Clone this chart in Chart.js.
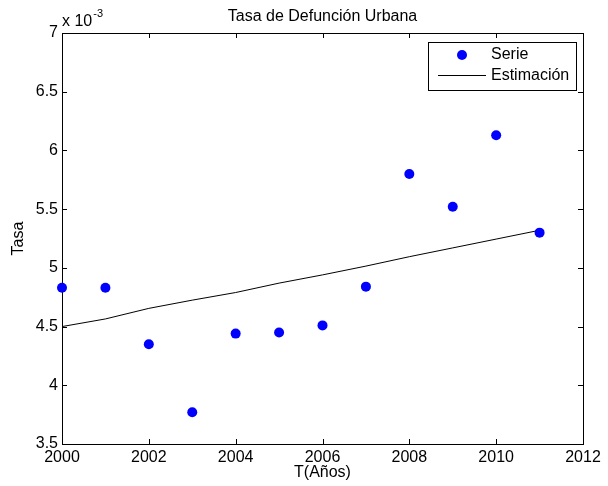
<!DOCTYPE html>
<html>
<head>
<meta charset="utf-8">
<script src="https://cdn.jsdelivr.net/npm/chart.js@4/dist/chart.umd.min.js"></script>
<style>
  html, body { margin: 0; padding: 0; background: #ffffff; }
  #wrap { width: 608px; height: 486px; }
</style>
</head>
<body>
<div id="wrap"><canvas id="c" width="608" height="486"></canvas></div>
<script>
// Urban death rate by year (values in units of 10^-3)
const years = [2000, 2001, 2002, 2003, 2004, 2005, 2006, 2007, 2008, 2009, 2010, 2011];
const serie = [4.83, 4.83, 4.35, 3.77, 4.44, 4.45, 4.51, 4.84, 5.80, 5.52, 6.13, 5.30];
const estimacion = [4.50, 4.565, 4.655, 4.725, 4.79, 4.87, 4.94, 5.015, 5.095, 5.17, 5.245, 5.32];
const xTicks = [2000, 2002, 2004, 2006, 2008, 2010, 2012];
const yTicks = [3.5, 4, 4.5, 5, 5.5, 6, 6.5, 7];
const yTickLabels = ['3.5', '4', '4.5', '5', '5.5', '6', '6.5', '7'];

const FONT = 'Liberation Sans, Arial, Helvetica, sans-serif';
const FS = 16;

// Axis box with inward tick marks on all four sides
const boxPlugin = {
  id: 'box',
  beforeDatasetsDraw(chart) {
    const { ctx, chartArea: a, scales: { x, y } } = chart;
    ctx.save();
    ctx.strokeStyle = '#000';
    ctx.lineWidth = 1;
    ctx.strokeRect(a.left + 0.5, a.top + 0.5, a.right - a.left, a.bottom - a.top);
    const tl = 5;
    ctx.beginPath();
    xTicks.forEach(v => {
      const px = Math.round(x.getPixelForValue(v)) + 0.5;
      ctx.moveTo(px, a.bottom); ctx.lineTo(px, a.bottom - tl);
      ctx.moveTo(px, a.top); ctx.lineTo(px, a.top + tl);
    });
    yTicks.forEach(v => {
      const py = Math.round(y.getPixelForValue(v)) + 0.5;
      ctx.moveTo(a.left, py); ctx.lineTo(a.left + tl, py);
      ctx.moveTo(a.right, py); ctx.lineTo(a.right - tl, py);
    });
    ctx.stroke();
    // exponent note above the y axis
    ctx.fillStyle = '#000';
    ctx.textBaseline = 'alphabetic';
    ctx.textAlign = 'left';
    ctx.font = FS + 'px ' + FONT;
    ctx.fillText('x 10', a.left, 26);
    const w = ctx.measureText('x 10').width;
    ctx.font = '11px ' + FONT;
    ctx.fillText('-3', a.left + w + 1, 17);
    ctx.restore();
  },
  afterDraw(chart) {
    // legend box in the upper right corner of the plot
    const { ctx } = chart;
    const L = 428, T = 42, R = 576, B = 90;
    ctx.save();
    ctx.fillStyle = '#fff';
    ctx.fillRect(L, T, R - L, B - T);
    ctx.strokeStyle = '#000';
    ctx.lineWidth = 1;
    ctx.strokeRect(L + 0.5, T + 0.5, R - L, B - T);
    const d0 = chart.data.datasets[0], d1 = chart.data.datasets[1];
    ctx.fillStyle = d0.pointBackgroundColor;
    ctx.beginPath();
    ctx.arc(462, 55, d0.pointRadius, 0, Math.PI * 2);
    ctx.fill();
    ctx.strokeStyle = d1.borderColor;
    ctx.lineWidth = d1.borderWidth;
    ctx.beginPath();
    ctx.moveTo(438, 75.5); ctx.lineTo(486, 75.5);
    ctx.stroke();
    ctx.fillStyle = '#000';
    ctx.font = FS + 'px ' + FONT;
    ctx.textBaseline = 'middle';
    ctx.textAlign = 'left';
    ctx.fillText(d0.label, 491, 55);
    ctx.fillText(d1.label, 491, 76);
    ctx.restore();
  }
};

new Chart(document.getElementById('c'), {
  type: 'scatter',
  data: {
    datasets: [
      {
        label: 'Serie',
        data: years.map((yr, i) => ({ x: yr, y: serie[i] })),
        showLine: false,
        pointRadius: 5,
        pointHoverRadius: 5,
        pointBackgroundColor: '#0000ff',
        pointBorderColor: '#0000ff',
        pointBorderWidth: 0,
        clip: false,
        order: 0
      },
      {
        label: 'Estimación',
        data: years.map((yr, i) => ({ x: yr, y: estimacion[i] })),
        showLine: true,
        borderColor: '#000000',
        borderWidth: 1,
        pointRadius: 0,
        tension: 0,
        clip: false,
        order: 1
      }
    ]
  },
  options: {
    responsive: false,
    animation: false,
    devicePixelRatio: 1,
    layout: { padding: { left: 0, right: 25, top: 0, bottom: 0 } },
    plugins: {
      legend: { display: false },
      tooltip: { enabled: false },
      title: {
        display: true,
        text: 'Tasa de Defunción Urbana',
        fullSize: false,
        color: '#000',
        font: { family: FONT, size: FS, weight: 'normal' },
        padding: { top: 7, bottom: 6.8 }
      }
    },
    scales: {
      x: {
        type: 'linear',
        min: 2000, max: 2012,
        grid: { display: false, drawTicks: false },
        border: { display: false },
        afterBuildTicks: s => { s.ticks = xTicks.map(v => ({ value: v })); },
        afterFit: s => { s.height = 42; },
        ticks: {
          color: '#000',
          padding: 4,
          maxRotation: 0,
          autoSkip: false,
          font: { family: FONT, size: FS },
          callback: v => String(v)
        },
        title: {
          display: true,
          text: 'T(Años)',
          color: '#000',
          font: { family: FONT, size: FS },
          padding: { top: 1 }
        }
      },
      y: {
        type: 'linear',
        min: 3.5, max: 7,
        grid: { display: false, drawTicks: false },
        border: { display: false },
        afterBuildTicks: s => { s.ticks = yTicks.map(v => ({ value: v })); },
        afterFit: s => { s.width = 62; },
        ticks: {
          color: '#000',
          padding: 4,
          autoSkip: false,
          font: { family: FONT, size: FS },
          callback: (v) => yTickLabels[yTicks.indexOf(v)]
        },
        title: {
          display: true,
          text: 'Tasa',
          color: '#000',
          font: { family: FONT, size: FS },
          padding: { top: 9 }
        }
      }
    }
  },
  plugins: [boxPlugin]
});
</script>
</body>
</html>
